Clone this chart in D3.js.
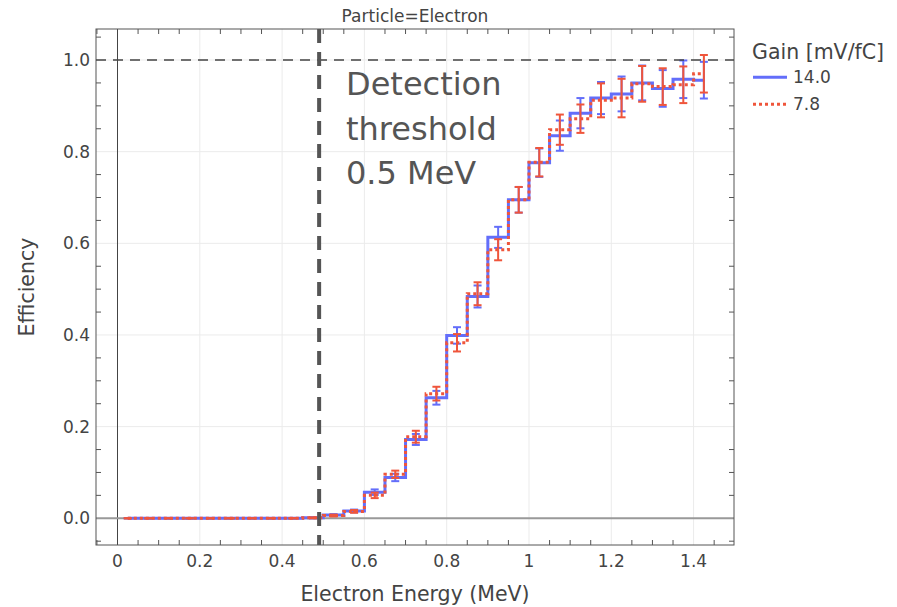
<!DOCTYPE html>
<html>
<head>
<meta charset="utf-8">
<script src="https://cdn.jsdelivr.net/npm/d3@7"></script>
<style>
  html, body { margin: 0; padding: 0; background: #fff; }
  svg { display: block; font-family: "DejaVu Sans", sans-serif; }
</style>
</head>
<body>
<svg id="chart" width="897" height="607"></svg>
<script>
// ---------------- data ----------------
const energy = [0.025, 0.075, 0.125, 0.175, 0.225, 0.275, 0.325, 0.375, 0.425, 0.475,
                0.525, 0.575, 0.625, 0.675, 0.725, 0.775, 0.825, 0.875, 0.925, 0.975,
                1.025, 1.075, 1.125, 1.175, 1.225, 1.275, 1.325, 1.375, 1.425];
const eff14 = [0, 0, 0, 0, 0, 0, 0, 0, 0, 0.001,
               0.007, 0.016, 0.057, 0.089, 0.172, 0.263, 0.399, 0.484, 0.613, 0.695,
               0.776, 0.835, 0.884, 0.917, 0.926, 0.950, 0.938, 0.958, 0.956];
const err14 = [0, 0, 0, 0, 0, 0, 0, 0, 0, 0.001,
               0.002, 0.003, 0.006, 0.008, 0.012, 0.015, 0.018, 0.024, 0.023, 0.028,
               0.031, 0.033, 0.033, 0.035, 0.038, 0.038, 0.040, 0.041, 0.040];
const eff78 = [0, 0, 0, 0, 0, 0, 0, 0, 0, 0.001,
               0.006, 0.015, 0.050, 0.096, 0.178, 0.272, 0.383, 0.490, 0.586, 0.695,
               0.777, 0.848, 0.872, 0.912, 0.917, 0.948, 0.942, 0.946, 0.970];
const err78 = [0, 0, 0, 0, 0, 0, 0, 0, 0, 0.001,
               0.002, 0.003, 0.006, 0.008, 0.013, 0.015, 0.019, 0.025, 0.023, 0.028,
               0.031, 0.033, 0.031, 0.037, 0.042, 0.039, 0.040, 0.040, 0.041];
const seriesNames = ["14.0", "7.8"];
const xTickValues = [0, 0.2, 0.4, 0.6, 0.8, 1.0, 1.2, 1.4];
const xTickLabels = ["0", "0.2", "0.4", "0.6", "0.8", "1", "1.2", "1.4"];
const yTickValues = [0, 0.2, 0.4, 0.6, 0.8, 1.0];
const yTickLabels = ["0.0", "0.2", "0.4", "0.6", "0.8", "1.0"];
const thresholdEnergy = 0.49;
const fullEfficiency = 1.0;

// ---------------- layout ----------------
const svg = d3.select("#chart");
const L = 96, R = 734, T = 29, B = 545;
const x = d3.scaleLinear().domain([-0.05225, 1.4982]).range([L, R]);
const y = d3.scaleLinear().domain([-0.0583, 1.0677]).range([B, T]);
const textCol = "#444";
const colors = ["#636EFA", "#EF553B"];

// grid
const grid = svg.append("g");
grid.selectAll("line.gx").data(xTickValues.filter(v => v !== 0)).enter().append("line")
  .attr("x1", d => x(d)).attr("x2", d => x(d)).attr("y1", T).attr("y2", B)
  .attr("stroke", "#ebebeb").attr("stroke-width", 1);
grid.selectAll("line.gy").data(yTickValues.filter(v => v !== 0)).enter().append("line")
  .attr("y1", d => y(d)).attr("y2", d => y(d)).attr("x1", L).attr("x2", R)
  .attr("stroke", "#ebebeb").attr("stroke-width", 1);

// zero lines
svg.append("line").attr("x1", x(0)).attr("x2", x(0)).attr("y1", T).attr("y2", B)
  .attr("stroke", "#444").attr("stroke-width", 1);
svg.append("line").attr("x1", L).attr("x2", R).attr("y1", y(0)).attr("y2", y(0))
  .attr("stroke", "#999").attr("stroke-width", 2);

// frame
svg.append("rect").attr("x", L).attr("y", T).attr("width", R - L).attr("height", B - T)
  .attr("fill", "none").attr("stroke", "#555").attr("stroke-width", 1);

// minor ticks (inside, mirrored)
const xMinor = d3.range(-0.05, 1.5, 0.05).map(v => Math.round(v * 100) / 100)
  .filter(v => Math.abs(Math.round(v * 5) - v * 5) > 1e-6 && x(v) > L && x(v) < R);
const yMinor = d3.range(-0.05, 1.07, 0.05).map(v => Math.round(v * 100) / 100)
  .filter(v => Math.abs(Math.round(v * 5) - v * 5) > 1e-6 && y(v) < B && y(v) > T);
const tk = svg.append("g").attr("stroke", "#555").attr("stroke-width", 1);
xMinor.forEach(v => {
  tk.append("line").attr("x1", x(v)).attr("x2", x(v)).attr("y1", B).attr("y2", B - 5);
  tk.append("line").attr("x1", x(v)).attr("x2", x(v)).attr("y1", T).attr("y2", T + 5);
});
yMinor.forEach(v => {
  tk.append("line").attr("y1", y(v)).attr("y2", y(v)).attr("x1", L).attr("x2", L + 5);
  tk.append("line").attr("y1", y(v)).attr("y2", y(v)).attr("x1", R).attr("x2", R - 5);
});

// tick labels
svg.append("g").selectAll("text").data(xTickValues).enter().append("text")
  .attr("x", d => x(d)).attr("y", 567).attr("text-anchor", "middle")
  .attr("font-size", 17).attr("fill", textCol)
  .text((d, i) => xTickLabels[i]);
svg.append("g").selectAll("text").data(yTickValues).enter().append("text")
  .attr("x", 90).attr("y", d => y(d)).attr("dy", "0.36em").attr("text-anchor", "end")
  .attr("font-size", 17).attr("fill", textCol)
  .text((d, i) => yTickLabels[i]);

// axis titles
svg.append("text").attr("x", (L + R) / 2).attr("y", 601).attr("text-anchor", "middle")
  .attr("font-size", 20.5).attr("fill", textCol).text("Electron Energy (MeV)");
svg.append("text").attr("transform", `translate(33.5,${(T + B) / 2 + 0}) rotate(-90)`)
  .attr("text-anchor", "middle").attr("font-size", 20.5).attr("fill", textCol).text("Efficiency");

// title
svg.append("text").attr("x", (L + R) / 2).attr("y", 21.5).attr("text-anchor", "middle")
  .attr("font-size", 17).attr("fill", textCol).text("Particle=Electron");

// series
const series = [
  { name: seriesNames[0], vals: eff14, errs: err14, color: colors[0], dash: null },
  { name: seriesNames[1], vals: eff78, errs: err78, color: colors[1], dash: "3,3" }
];
const line = d3.line().x(d => x(d[0])).y(d => y(d[1])).curve(d3.curveStep);
series.forEach(s => {
  const pts = energy.map((e, i) => [e, s.vals[i], s.errs[i]]);
  const g = svg.append("g");
  g.append("path").attr("d", line(pts)).attr("fill", "none")
    .attr("stroke", s.color).attr("stroke-width", 3)
    .attr("stroke-dasharray", s.dash);
  const eb = g.append("g").attr("stroke", s.color).attr("stroke-width", 2);
  pts.forEach(p => {
    const cx = x(p[0]), y1 = y(p[1] + p[2]), y2 = y(p[1] - p[2]);
    eb.append("line").attr("x1", cx).attr("x2", cx).attr("y1", y1).attr("y2", y2);
    eb.append("line").attr("x1", cx - 4).attr("x2", cx + 4).attr("y1", y1).attr("y2", y1);
    eb.append("line").attr("x1", cx - 4).attr("x2", cx + 4).attr("y1", y2).attr("y2", y2);
  });
});

// shapes
svg.append("line").attr("x1", L).attr("x2", R)
  .attr("y1", y(fullEfficiency)).attr("y2", y(fullEfficiency))
  .attr("stroke", "#444").attr("stroke-width", 1.5).attr("stroke-dasharray", "10,7");
svg.append("line").attr("x1", x(thresholdEnergy)).attr("x2", x(thresholdEnergy))
  .attr("y1", T).attr("y2", B)
  .attr("stroke", "#555").attr("stroke-width", 4).attr("stroke-dasharray", "14,9");

// annotation
const ann = svg.append("text").attr("font-size", 32).attr("fill", "#555");
["Detection", "threshold", "0.5 MeV"].forEach((t, i) => {
  ann.append("tspan").attr("x", 346).attr("y", 95 + i * 44.7).text(t);
});

// legend
const lg = svg.append("g");
lg.append("text").attr("x", 752).attr("y", 59).attr("font-size", 20.5).attr("fill", textCol)
  .text("Gain [mV/fC]");
series.forEach((s, i) => {
  const ly = 77.3 + i * 27;
  lg.append("line").attr("x1", 753).attr("x2", 787).attr("y1", ly).attr("y2", ly)
    .attr("stroke", s.color).attr("stroke-width", 3).attr("stroke-dasharray", s.dash);
  lg.append("text").attr("x", 793).attr("y", ly).attr("dy", "0.36em")
    .attr("font-size", 17).attr("fill", textCol).text(s.name);
});
</script>
</body>
</html>
